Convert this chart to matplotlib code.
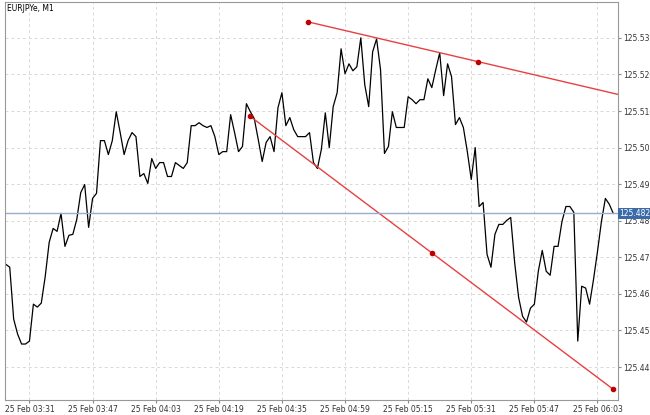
import matplotlib
matplotlib.use("Agg")
import matplotlib.pyplot as plt
import numpy as np

prices = [468.1,467.3,453.1,449.0,446.3,446.3,447.1,457.2,456.4,457.5,464.8,474.1,477.9,477.1,482.0,473.0,476.0,476.3,480.4,487.7,489.9,478.2,486.1,487.5,501.9,501.9,498.1,501.9,509.8,504.1,498.1,501.9,504.1,503.0,492.1,492.9,490.2,497.0,494.3,495.9,495.9,492.1,492.1,495.9,495.1,494.3,495.9,506.0,506.0,506.8,506.0,505.5,506.0,503.0,498.1,498.9,498.9,509.0,504.1,498.9,500.3,512.0,509.8,507.9,502.2,496.2,501.4,503.0,498.9,510.9,515.0,506.0,508.2,504.9,503.0,503.0,503.0,504.1,495.9,494.3,499.5,509.5,
          500.0,511.2,515.0,527.0,520.2,522.9,521.0,522.1,530.0,517.2,511.2,526.2,529.7,521.3,498.4,500.3,509.8,505.5,505.5,505.5,513.9,513.1,512.0,513.1,513.1,518.8,516.4,521.3,525.9,514.2,522.9,519.4,506.3,508.2,505.5,498.9,491.3,500.0,483.9,485.0,470.8,467.3,476.3,479.0,479.0,480.1,480.9,468.6,459.1,453.9,452.3,456.1,457.2,466.2,471.9,466.2,465.1,473.0,473.0,479.8,483.9,483.9,482.3,447.1,462.1,461.6,457.2,464.0,471.6,479.8,486.1,484.5,482.0]
prices = [125 + p / 1000 for p in prices]
tick_idx = [6, 22, 38, 54, 70, 86, 102, 118, 134, 150]
tick_labels = ["25 Feb 03:31", "25 Feb 03:47", "25 Feb 04:03", "25 Feb 04:19", "25 Feb 04:35",
               "25 Feb 04:59", "25 Feb 05:15", "25 Feb 05:31", "25 Feb 05:47", "25 Feb 06:03"]
yticks = [125.44, 125.45, 125.46, 125.47, 125.48, 125.49, 125.50, 125.51, 125.52, 125.53]
current = 125.482
upper_pts = ([76.5, 119.7], [125.5344, 125.5235])
lower_pts = ([62.0, 108.1, 153.9], [125.5085, 125.4711, 125.4340])

fig = plt.figure(figsize=(6.5, 4.15), dpi=100)
ax = fig.add_axes([5/650, 15/415, 613/650, 398/415])
x = np.arange(len(prices))
ax.plot(x, prices, color="black", lw=0.9)
xmax = 155.2
ax.set_xlim(-0.2, xmax)
ax.set_ylim(125.4310, 125.5398)

ux, uy = upper_pts
slope = (uy[1] - uy[0]) / (ux[1] - ux[0])
ax.plot([ux[0], xmax], [uy[0], uy[0] + slope * (xmax - ux[0])], color="#e84040", lw=1)
ax.plot(ux, uy, 'o', color="#c00000", ms=3)
lx, ly = lower_pts
ax.plot([lx[0], lx[-1]], [ly[0], ly[-1]], color="#e84040", lw=1)
ax.plot(lx, ly, 'o', color="#c00000", ms=3)

ax.axhline(current, color="#9aaccc", lw=1)

ax.set_xticks(tick_idx)
ax.set_xticklabels(tick_labels)
ax.set_yticks(yticks)
ax.set_yticklabels([f"{v:.3f}" for v in yticks])
ax.yaxis.tick_right()
ax.tick_params(axis='both', labelsize=5.5, length=2, pad=1.5, color="#888888", labelcolor="#333333")
ax.grid(True, ls=(0, (3, 3)), color="#d8d8d8", lw=0.7)
for s in ax.spines.values():
    s.set_color("#999999")
ax.text(0.004, 0.995, "EURJPYe, M1", transform=ax.transAxes, fontsize=5.5, va="top", ha="left")
ax.text(1.002, current, f"{current:.3f}", transform=ax.get_yaxis_transform(), fontsize=5.5,
        va="center", ha="left", color="white",
        bbox=dict(boxstyle="square,pad=0.12", fc="#3b6aa8", ec="none"))
fig.savefig("out.png", dpi=100)
